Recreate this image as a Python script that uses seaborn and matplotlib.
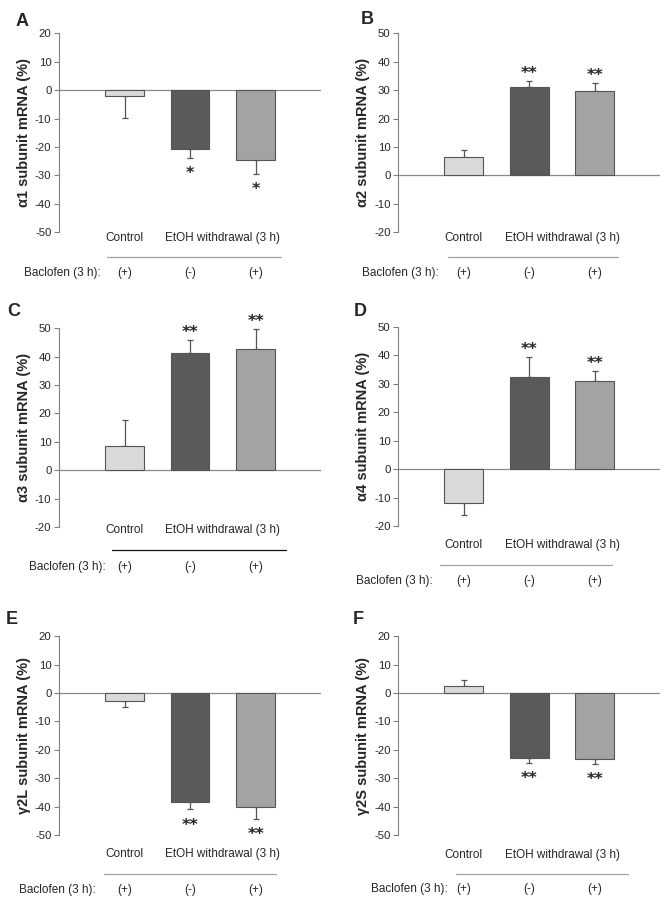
import numpy as np
import pandas as pd
import matplotlib
matplotlib.use("Agg")
import matplotlib.pyplot as plt
import matplotlib.transforms as mtransforms
import seaborn as sns

# --------------------------------------------------------------
# Data
# --------------------------------------------------------------

conditions = ["Control", "EtOH (-)", "EtOH (+)"]
baclofen = ["(+)", "(-)", "(+)"]

a1_mean = [-2.0, -20.7, -24.7]
a1_err = [7.8, 3.3, 4.8]
a2_mean = [6.3, 31.2, 29.8]
a2_err = [2.7, 2.0, 2.7]
a3_mean = [8.5, 41.2, 42.5]
a3_err = [9.0, 4.5, 7.2]
a4_mean = [-11.8, 32.4, 31.0]
a4_err = [4.2, 6.9, 3.5]
g2l_mean = [-2.8, -38.3, -40.0]
g2l_err = [2.2, 2.7, 4.2]
g2s_mean = [2.5, -23.0, -23.3]
g2s_err = [2.0, 1.5, 1.7]

stars_one = ["", "*", "*"]
stars_two = ["", "**", "**"]

panel_letters = ["A", "B", "C", "D", "E", "F"]
ylabels = ["α1 subunit mRNA (%)", "α2 subunit mRNA (%)", "α3 subunit mRNA (%)",
           "α4 subunit mRNA (%)", "γ2L subunit mRNA (%)", "γ2S subunit mRNA (%)"]
ylims = [(-50, 20), (-20, 50), (-20, 50), (-20, 50), (-50, 20), (-50, 20)]

panels = [
    (a1_mean, a1_err, stars_one),
    (a2_mean, a2_err, stars_two),
    (a3_mean, a3_err, stars_two),
    (a4_mean, a4_err, stars_two),
    (g2l_mean, g2l_err, stars_two),
    (g2s_mean, g2s_err, stars_two),
]

# --------------------------------------------------------------
# Layout (figure fractions / axes fractions)
# --------------------------------------------------------------

axes_rects = [
    [0.0885, 0.742, 0.393, 0.221],
    [0.597, 0.742, 0.393, 0.221],
    [0.0885, 0.4144, 0.393, 0.221],
    [0.597, 0.4156, 0.393, 0.221],
    [0.0885, 0.0722, 0.393, 0.221],
    [0.597, 0.0722, 0.393, 0.221],
]
letter_pos = [(22, 21), (367, 19), (14, 312), (360, 312), (12, 620), (358, 620)]
# (category label y, line y, baclofen y) in axes fraction below the axis
row_y = [(-0.03, -0.125, -0.205), (-0.03, -0.125, -0.205), (-0.015, -0.115, -0.20),
         (-0.095, -0.196, -0.276), (-0.095, -0.196, -0.276), (-0.10, -0.196, -0.272)]
line_span = [(-0.27, 2.39), (-0.24, 2.36), (-0.19, 2.46), (-0.36, 2.27), (-0.31, 2.31), (-0.12, 2.5)]
line_colors = ["#a0a0a0", "#a0a0a0", "#111111", "#a0a0a0", "#a0a0a0", "#a0a0a0"]
bac_x = [-1.54, -1.55, -1.46, -1.64, -1.61, -1.41]

bar_colors = ["#d9d9d9", "#5a5a5a", "#a3a3a3"]
edge_color = "#555555"

# --------------------------------------------------------------
# Plot
# --------------------------------------------------------------

sns.set_style("white")
plt.rcParams["font.family"] = ["Liberation Sans", "DejaVu Sans"]
plt.rcParams["axes.unicode_minus"] = False

fig = plt.figure(figsize=(6.67, 9), dpi=100)

for i, (means, errs, stars) in enumerate(panels):
    ax = fig.add_axes(axes_rects[i])
    df = pd.DataFrame({"condition": conditions, "value": means})

    ax.axhline(0, color="#8a8a8a", lw=0.9, zorder=0)
    sns.barplot(data=df, x="condition", y="value", hue="condition",
                palette=bar_colors, legend=False, errorbar=None,
                width=0.59, edgecolor=edge_color, linewidth=0.8, ax=ax, zorder=2)

    xs = [p.get_x() + p.get_width() / 2 for p in ax.patches]
    lower = [e if m < 0 else 0 for m, e in zip(means, errs)]
    upper = [e if m >= 0 else 0 for m, e in zip(means, errs)]
    ax.errorbar(xs, means, yerr=[lower, upper], fmt="none", ecolor="#555555",
                elinewidth=0.9, capsize=2.3, capthick=0.9, zorder=1)

    for x, m, e, s in zip(xs, means, errs, stars):
        if not s:
            continue
        if m >= 0:
            ax.annotate(s, (x, m + e), xytext=(0, 2.5), textcoords="offset points",
                        ha="center", va="baseline", fontsize=11.5, fontweight="bold",
                        family="DejaVu Sans")
        else:
            ax.annotate(s, (x, m - e), xytext=(0, -14.5), textcoords="offset points",
                        ha="center", va="baseline", fontsize=11.5, fontweight="bold",
                        family="DejaVu Sans")

    ax.set_xlim(-1, 3)
    ax.set_ylim(*ylims[i])
    ax.set_yticks(np.arange(ylims[i][0], ylims[i][1] + 1, 10))
    ax.set_xticks([])
    ax.set_xlabel("")
    ax.set_ylabel(ylabels[i], fontsize=10.5, fontweight="bold", labelpad=3)
    ax.tick_params(axis="y", direction="out", length=3.5, width=0.8, color="#808080",
                   labelsize=8.2, pad=2, left=True)
    for side in ["top", "right", "bottom"]:
        ax.spines[side].set_visible(False)
    ax.spines["left"].set_color("#808080")
    ax.spines["left"].set_linewidth(0.8)

    trans = mtransforms.blended_transform_factory(ax.transData, ax.transAxes)
    lab_y, line_y, bac_y = row_y[i]
    ax.text(xs[0], lab_y, "Control", transform=trans, ha="center", va="center",
            fontsize=8.5, clip_on=False)
    ax.text((xs[1] + xs[2]) / 2, lab_y, "EtOH withdrawal (3 h)", transform=trans,
            ha="center", va="center", fontsize=8.5, clip_on=False)
    ax.plot(line_span[i], [line_y, line_y], transform=trans, color=line_colors[i],
            lw=0.9, clip_on=False)
    ax.text(bac_x[i], bac_y, "Baclofen (3 h):", transform=trans, ha="left", va="center",
            fontsize=8.5, clip_on=False)
    for x, b in zip(xs, baclofen):
        ax.text(x, bac_y, b, transform=trans, ha="center", va="center",
                fontsize=8.5, clip_on=False)

    lx, ly = letter_pos[i]
    fig.text(lx / 667, 1 - ly / 900, panel_letters[i], ha="center", va="center",
             fontsize=13, fontweight="bold")

fig.savefig("out.png", dpi=100)
